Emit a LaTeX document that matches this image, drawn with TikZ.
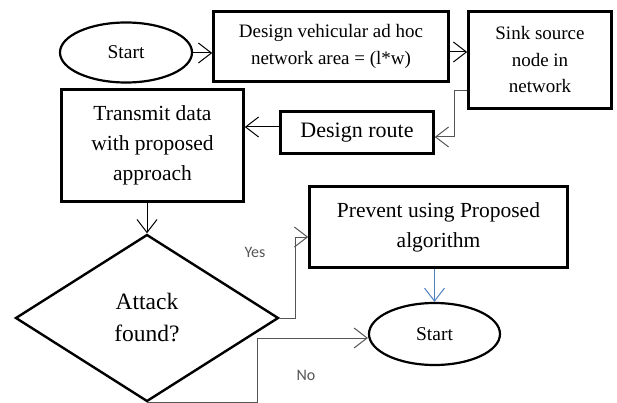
\documentclass[tikz,border=0pt]{standalone}
\usepackage{fontspec}
\setmainfont{Liberation Serif}
\newfontfamily\labfont{Carlito}
\usetikzlibrary{shapes.geometric,arrows.meta}
\definecolor{conngray}{RGB}{85,85,85}
\definecolor{connblue}{RGB}{79,129,189}
\begin{document}
\begin{tikzpicture}[x=1pt,y=-1pt,
  box/.style={draw, line width=2.6pt, align=center, inner sep=0pt},
  term/.style={draw, ellipse, line width=2.2pt, inner sep=0pt, align=center},
  conn/.style={-{Straight Barb[length=13pt,width=20pt]}, line width=1pt},
  lab/.style={font=\labfont\fontsize{16}{18}\selectfont, text=conngray}]
\useasboundingbox (0,0) rectangle (617,403);
\node[term, minimum width=132pt, minimum height=60pt, font=\fontsize{19.5}{24}\selectfont] (start) at (126,52.5) {Start};
\node[box, minimum width=235pt, minimum height=70pt, font=\fontsize{19}{27}\selectfont] (design) at (331,46.5) {Design vehicular ad hoc\\network area = (l*w)};
\node[box, minimum width=143pt, minimum height=97pt, font=\fontsize{19}{26.5}\selectfont] (sink) at (540,60) {Sink source\\node in\\network};
\node[box, minimum width=153pt, minimum height=42pt, font=\fontsize{22}{26}\selectfont] (route) at (357,132.5) {Design route};
\node[box, minimum width=182pt, minimum height=112pt, font=\fontsize{21.5}{30}\selectfont] (transmit) at (152.5,145.5) {Transmit data\\with proposed\\approach};
\node[draw, diamond, line width=2.4pt, minimum width=263pt, minimum height=167pt, inner sep=0pt, align=center, font=\fontsize{23.5}{32}\selectfont] (attack) at (147,318) {Attack\\found?};
\node[box, minimum width=258pt, minimum height=81pt, font=\fontsize{21.5}{30}\selectfont] (prevent) at (438.5,227) {Prevent using Proposed\\algorithm};
\node[term, minimum width=131pt, minimum height=62pt, font=\fontsize{19.5}{24}\selectfont] (stop) at (434.5,334) {Start};
\draw[conn] ([yshift=-0.5pt]start.east) -- ([yshift=-0.5pt]start.east -| design.west);
\draw[conn] ([yshift=-5.5pt]design.east) -- ([yshift=-5.5pt]design.east -| sink.west);
\draw[conn, conngray] ([yshift=-31pt]sink.west) -- ++(-13,0) |- ([yshift=-4.5pt]route.east);
\draw[conn] ([yshift=5.5pt]route.west) -- ([yshift=5.5pt]route.west -| transmit.east);
\draw[conn] (attack.north |- transmit.south) -- (attack.north);
\draw[conn, conngray] (attack.east) -- ++(16,0) |- ([yshift=-10pt]prevent.west);
\draw[conn, conngray] (attack.south) -- ++(110,0) |- ([yshift=-4pt]stop.west);
\draw[conn, connblue] (stop.north |- prevent.south) -- (stop.north);
\node[lab] (yes) at (255,252) {Yes};
\node[lab] (no) at (306,375) {No};
\end{tikzpicture}
\end{document}
